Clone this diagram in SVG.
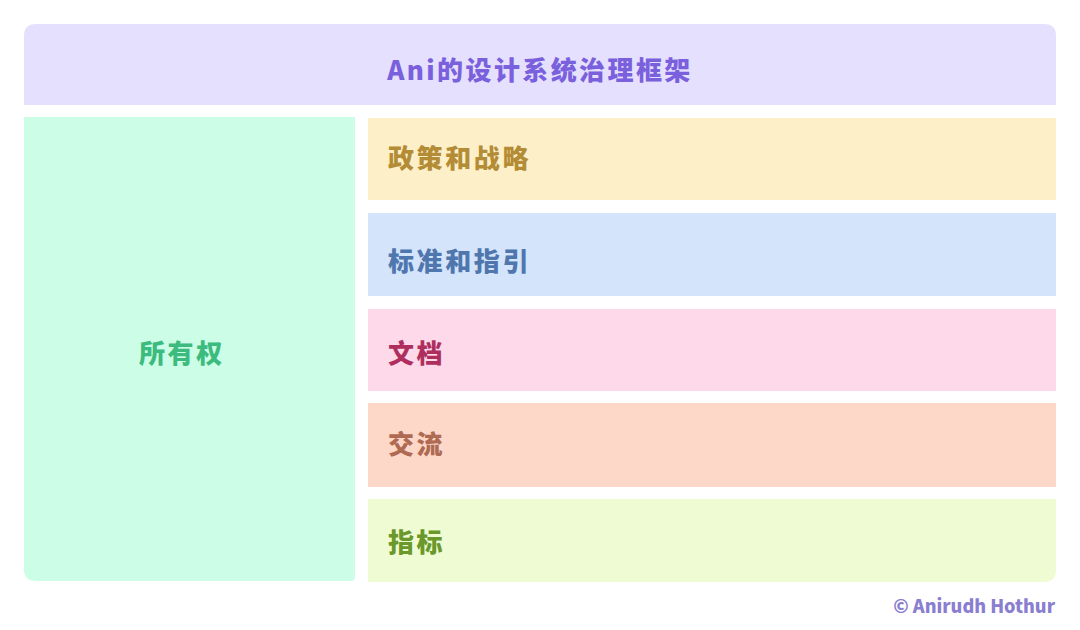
<svg xmlns="http://www.w3.org/2000/svg" width="1080" height="630" viewBox="0 0 1080 630">
<style>
text{font-family:"Noto Sans CJK SC","Noto Sans",sans-serif;font-weight:900}
.lbl{font-size:26px;letter-spacing:2.6px}
</style>
<rect width="1080" height="630" fill="#ffffff"/>
<g id="header">
<path d="M24,105 V36 Q24,24 36,24 H1044 Q1056,24 1056,36 V105 Z" fill="#E4E0FD"/>
<text x="540" y="80" text-anchor="middle" font-size="26" letter-spacing="2.4" fill="#7A60DC">Ani的设计系统治理框架</text>
</g>
<g id="ownership">
<path d="M24,117 H355 V577 Q355,581 351,581 H36 Q24,581 24,569 Z" fill="#CCFDE6"/>
<text class="lbl" x="139" y="363" fill="#3CBB7E">所有权</text>
</g>
<g id="policy">
<rect x="368" y="118" width="688" height="82" fill="#FDEFC8"/>
<text class="lbl" x="388" y="168" fill="#B38C35">政策和战略</text>
</g>
<g id="standards">
<rect x="368" y="213" width="688" height="83" fill="#D3E4FB"/>
<text class="lbl" x="388" y="271" fill="#4F77AE">标准和指引</text>
</g>
<g id="docs">
<rect x="368" y="309" width="688" height="82" fill="#FDD9EA"/>
<text class="lbl" x="388" y="363" fill="#AE2F5E">文档</text>
</g>
<g id="comms">
<rect x="368" y="403" width="688" height="84" fill="#FDD7C8"/>
<text class="lbl" x="388" y="454" fill="#AE6A52">交流</text>
</g>
<g id="metrics">
<path d="M368,499 H1056 V570 Q1056,582 1044,582 H368 Z" fill="#EEFBD3"/>
<text class="lbl" x="388" y="552" fill="#6A982A">指标</text>
</g>
<g id="connectors"></g>
<text x="1055" y="613" text-anchor="end" font-size="18" font-weight="700" fill="#8A7ED0" font-family="'Open Sans','Noto Sans',sans-serif">© Anirudh Hothur</text>
</svg>
